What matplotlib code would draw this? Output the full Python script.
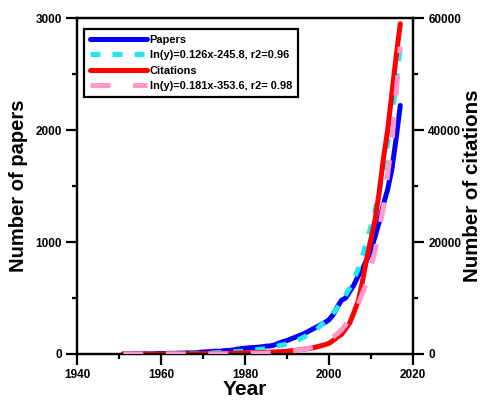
import matplotlib
matplotlib.use("Agg")
import matplotlib.pyplot as plt
from matplotlib.ticker import MultipleLocator

plt.rcParams['font.family'] = ['Liberation Sans', 'DejaVu Sans']
plt.rcParams['font.weight'] = 'bold'

# yearly counts
years = list(range(1951, 2018))
papers = [2, 1, 2, 3, 2, 3, 3, 4, 4, 5,
          4, 6, 6, 7, 8, 9, 10, 11, 14, 18,
          20, 22, 25, 24, 30, 32, 35, 42, 48, 52,
          55, 58, 60, 64, 70, 72, 80, 95, 110, 120,
          135, 150, 165, 180, 200, 220, 240, 260, 280, 305,
          350, 420, 480, 500, 560, 620, 700, 760, 840, 920,
          1050, 1180, 1340, 1470, 1650, 1920, 2220]
citations = [0, 0, 0, 0, 0, 5, 5, 5, 10, 10,
             10, 15, 15, 20, 20, 25, 30, 35, 40, 50,
             55, 60, 70, 80, 100, 110, 130, 150, 170, 200,
             210, 230, 250, 270, 300, 330, 360, 400, 450, 500,
             580, 650, 750, 850, 950, 1070, 1250, 1450, 1650, 1900,
             2400, 3000, 3500, 4500, 5600, 7500, 9500, 13000, 17000, 20500,
             24000, 29000, 35000, 40000, 46500, 53000, 59000]

# exponential fit curves
fit_years = [1951, 1955, 1960, 1965, 1970, 1975, 1980, 1985, 1990, 1993, 1995, 1997,
             2000, 2002, 2003, 2005, 2007, 2009, 2011, 2013, 2015, 2017]
papers_fit = [1, 1.2, 2, 3.8, 7, 14, 26, 48, 90, 131, 170, 219,
              320, 411, 470, 590, 760, 1000, 1280, 1650, 2120, 2740]
citations_fit = [0.4, 1, 2, 5, 11, 27, 68, 170, 415, 710, 1000, 1420,
                 2500, 3600, 4300, 6200, 8900, 12800, 18300, 26300, 37800, 54900]

fig = plt.figure(figsize=(4.88, 4.03), dpi=100)
ax = fig.add_axes([0.158, 0.1216, 0.688, 0.8334])
ax2 = ax.twinx()

l1, = ax.plot(years, papers, color='#0000ff', lw=3.6, solid_capstyle='round', zorder=2)
l2, = ax.plot(fit_years, papers_fit, color='#22e6f2', lw=3.6, dashes=(2.0, 2.4), zorder=3)
l3, = ax2.plot(years, citations, color='#ff0000', lw=3.6, solid_capstyle='round', zorder=2)
l4, = ax2.plot(fit_years, citations_fit, color='#ff99cc', lw=3.6, dashes=(4.0, 4.5), zorder=3)
ax.set_zorder(ax2.get_zorder() - 1)
ax.patch.set_visible(False)

ax.set_xlim(1940, 2020)
ax.set_ylim(0, 3000)
ax2.set_ylim(0, 60000)
ax.xaxis.set_major_locator(MultipleLocator(20))
ax.xaxis.set_minor_locator(MultipleLocator(10))
ax.yaxis.set_major_locator(MultipleLocator(1000))
ax.yaxis.set_minor_locator(MultipleLocator(500))
ax2.yaxis.set_major_locator(MultipleLocator(20000))
ax2.yaxis.set_minor_locator(MultipleLocator(10000))

for a in (ax, ax2):
    for s in a.spines.values():
        s.set_linewidth(1.6)
    a.tick_params(which='major', length=8, width=1.6, labelsize=8.5, direction='out', pad=3)
    a.tick_params(which='minor', length=3.8, width=1.6, direction='out')
for lab in ax.get_xticklabels() + ax.get_yticklabels() + ax2.get_yticklabels():
    lab.set_fontweight('bold')

ax.set_xlabel('Year', fontsize=15, fontweight='bold', labelpad=-1)
ax.set_ylabel('Number of papers', fontsize=14.5, fontweight='bold', labelpad=5)
ax2.set_ylabel('Number of citations', fontsize=14.8, fontweight='bold', rotation=90, labelpad=1)

leg = ax2.legend([l1, l2, l3, l4],
                 ['Papers', 'ln(y)=0.126x-245.8, r2=0.96',
                  'Citations', 'ln(y)=0.181x-353.6, r2= 0.98'],
                 loc='upper left', bbox_to_anchor=(0.005, 0.985), fontsize=7.9,
                 handlelength=5.2, handletextpad=0.2, labelspacing=0.5,
                 borderpad=0.55, fancybox=False, framealpha=1, edgecolor='black')
leg.get_frame().set_linewidth(1.6)
for t in leg.get_texts():
    t.set_fontweight('bold')

fig.savefig('out.png', dpi=100)
